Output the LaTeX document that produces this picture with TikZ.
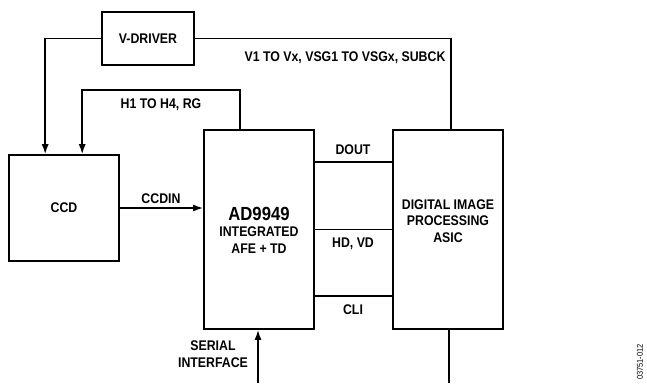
\documentclass[tikz,border=0pt]{standalone}
\usepackage{fontspec}
\setmainfont{Liberation Sans}[FakeStretch=0.88]
\usetikzlibrary{arrows.meta}
\usetikzlibrary{calc}
\usetikzlibrary{positioning}
\tikzset{>={Latex[length=10pt,width=7pt]}}
\tikzstyle{blockbox}=[draw,line width=1.6pt,inner sep=0pt,align=center]
\tikzstyle{sigline}=[line width=1.6pt]
\tikzstyle{siglabel}=[font=\bfseries\fontsize{14}{16.5}\selectfont,align=center,inner sep=0pt]

\begin{document}
\begin{tikzpicture}[x=1pt,y=-1pt]
  \useasboundingbox (0,0) rectangle (647,383);
  % blocks
  \node[blockbox,minimum width=92,minimum height=53,siglabel] (vdrv) at (148,38.5) {V-DRIVER};
  \node[blockbox,minimum width=110,minimum height=106,siglabel] (ccd) at (64,208) {CCD};
  \node[blockbox,minimum width=110,minimum height=199] (afe) at (259,229.5) {};
  \node[blockbox,minimum width=110,minimum height=199] (dsp) at (448,229.5) {};
  \node[siglabel] (afetxt) at (259,230) {{\fontsize{19}{21}\selectfont AD9949}\\INTEGRATED\\AFE + TD};
  \node[siglabel] (dsptxt) at (448,221) {DIGITAL IMAGE\\PROCESSING\\ASIC};

  % connectors
  \draw[sigline,->] (vdrv.west) -| ([xshift=37]ccd.north west);
  \draw[sigline] (vdrv.east) -| ([xshift=3]dsp.north);
  \draw[sigline,->] ([xshift=-19]afe.north) -- ++(0,-39) -| ([xshift=74]ccd.north west);
  \draw[sigline,->] (ccd.east) -- (afe.west |- ccd.east);
  \draw[sigline] ([yshift=67.5]afe.east) -- ([yshift=67.5]dsp.west);
  \draw[sigline] (afe.east) -- (dsp.west);
  \draw[sigline] ([yshift=-66.5]afe.east) -- ([yshift=-66.5]dsp.west);
  \coordinate (serin) at (258,383);
  \coordinate (dspout) at (449,383);
  \draw[sigline,->] (serin) -- (serin |- afe.south);
  \draw[sigline] (dspout |- dsp.south) -- (dspout);

  % labels
  \node[siglabel] (vlab) at (345,58) {V1 TO Vx, VSG1 TO VSGx, SUBCK};
  \node[siglabel] (hlab) at (161,105) {H1 TO H4, RG};
  \node[siglabel] (ccdinlab) at (161,199) {CCDIN};
  \node[siglabel] (doutlab) at (353,150) {DOUT};
  \node[siglabel] (hdvdlab) at (353,244) {HD, VD};
  \node[siglabel] (clilab) at (353,310) {CLI};
  \node[siglabel] (serlab) at (213,354) {SERIAL\\INTERFACE};
  \node[rotate=90,font=\fontsize{8.5}{9}\selectfont,inner sep=0pt] (figid) at (640,362) {03751-012};
\end{tikzpicture}
\end{document}
